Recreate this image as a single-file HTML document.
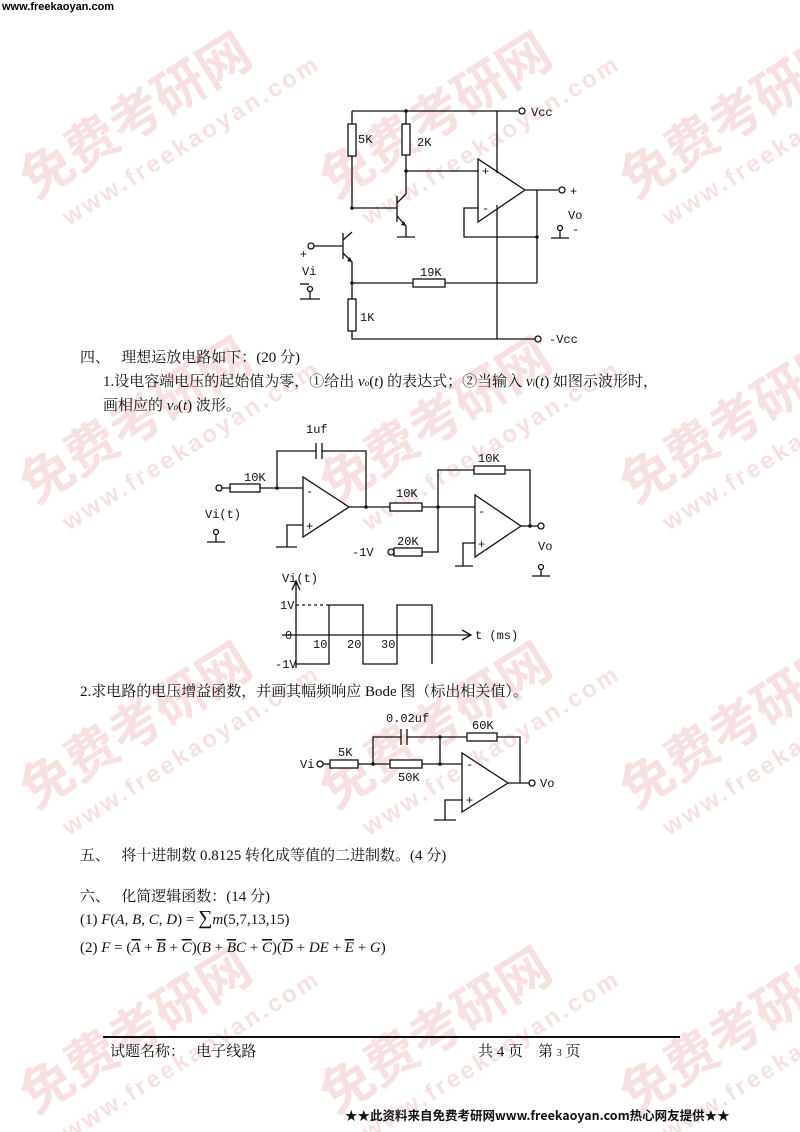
<!DOCTYPE html>
<html><head><meta charset="utf-8">
<style>
html,body{margin:0;padding:0;background:#fff;}
svg{display:block;}
.t{font-family:"Liberation Serif","Noto Serif CJK SC",serif;font-size:15px;fill:#111;}
.m{font-family:"Liberation Mono","Noto Sans CJK SC",monospace;font-size:12px;fill:#111;}
.i{font-style:italic;font-family:"Liberation Serif",serif;}
.wm{font-family:"Noto Sans CJK SC",sans-serif;font-weight:bold;font-size:52px;fill:#e8a8a8;opacity:0.35;}
.wm2{font-family:"Liberation Sans",sans-serif;font-weight:bold;font-size:24px;fill:#e8a8a8;opacity:0.35;letter-spacing:3px;}
</style></head><body>
<svg width="800" height="1132" viewBox="0 0 800 1132" xmlns="http://www.w3.org/2000/svg">
<rect width="800" height="1132" fill="#fff"/>
<g>
<g transform="translate(35,200) rotate(-32)"><text class="wm">免费考研网</text><text class="wm2" x="15" y="40">www.freekaoyan.com</text></g>
<g transform="translate(335,200) rotate(-32)"><text class="wm">免费考研网</text><text class="wm2" x="15" y="40">www.freekaoyan.com</text></g>
<g transform="translate(635,200) rotate(-32)"><text class="wm">免费考研网</text><text class="wm2" x="15" y="40">www.freekaoyan.com</text></g>
<g transform="translate(35,505) rotate(-32)"><text class="wm">免费考研网</text><text class="wm2" x="15" y="40">www.freekaoyan.com</text></g>
<g transform="translate(335,505) rotate(-32)"><text class="wm">免费考研网</text><text class="wm2" x="15" y="40">www.freekaoyan.com</text></g>
<g transform="translate(635,505) rotate(-32)"><text class="wm">免费考研网</text><text class="wm2" x="15" y="40">www.freekaoyan.com</text></g>
<g transform="translate(35,810) rotate(-32)"><text class="wm">免费考研网</text><text class="wm2" x="15" y="40">www.freekaoyan.com</text></g>
<g transform="translate(335,810) rotate(-32)"><text class="wm">免费考研网</text><text class="wm2" x="15" y="40">www.freekaoyan.com</text></g>
<g transform="translate(635,810) rotate(-32)"><text class="wm">免费考研网</text><text class="wm2" x="15" y="40">www.freekaoyan.com</text></g>
<g transform="translate(35,1115) rotate(-32)"><text class="wm">免费考研网</text><text class="wm2" x="15" y="40">www.freekaoyan.com</text></g>
<g transform="translate(335,1115) rotate(-32)"><text class="wm">免费考研网</text><text class="wm2" x="15" y="40">www.freekaoyan.com</text></g>
<g transform="translate(635,1115) rotate(-32)"><text class="wm">免费考研网</text><text class="wm2" x="15" y="40">www.freekaoyan.com</text></g>
</g>

<text x="2" y="10" style="font-family:'Liberation Sans',sans-serif;font-weight:bold;font-size:11px;fill:#000">www.freekaoyan.com</text>

<!-- TOP CIRCUIT -->
<g stroke="#111" stroke-width="1.3" fill="none">
<path d="M352,111 H518"/><circle cx="522" cy="111" r="3" fill="#fff"/>
<path d="M352,111 V124 M352,156 V208"/><rect x="348" y="124" width="8" height="32" fill="#fff"/>
<path d="M406,111 V124 M406,155 V194"/><rect x="402" y="124" width="8" height="31" fill="#fff"/>
<path d="M406,171 H478"/>
<path d="M478,159 L478,222 L525,190 Z" fill="#fff"/>
<path d="M497,111 V173 M497,205 V339"/>
<path d="M525,190 H558"/><circle cx="562" cy="190" r="3" fill="#fff"/>
<path d="M537,190 V283 M537,237 H464 V208 H478"/>
<path d="M352,208 H397 M397,196 V222 M397,203 L406,194 M397,216 L406,226 V237 M397,237 H415"/>
<path d="M314,246 H343 M343,233 V259 M343,240 L352,232 M343,253 L352,262 V299 M352,331 V339 H535"/><circle cx="311" cy="246" r="3" fill="#fff"/>
<circle cx="538" cy="339" r="3" fill="#fff"/>
<rect x="348" y="299" width="8" height="32" fill="#fff"/>
<path d="M352,283 H413 M445,283 H537"/><rect x="413" y="279" width="32" height="8" fill="#fff"/>
<path d="M310,291 V299 M300,299 H320"/><circle cx="310" cy="289" r="2.5" fill="#fff"/>
<path d="M560,230 V238 M551,238 H569"/><circle cx="560" cy="228" r="2.5" fill="#fff"/>
<path d="M300,284 H309"/>
</g>
<g fill="#111"><circle cx="406" cy="111" r="1.8"/><circle cx="406" cy="171" r="1.8"/><circle cx="352" cy="208" r="1.8"/><circle cx="352" cy="283" r="1.8"/><circle cx="537" cy="237" r="1.8"/>
<path d="M406,226 L401,225 L404,221 Z"/><path d="M352,262 L347,261 L350,257 Z"/></g>
<text class="m" x="358" y="143">5K</text><text class="m" x="417" y="146">2K</text>
<text class="m" x="482" y="175" font-size="10">+</text><text class="m" x="482" y="212">-</text>
<text class="m" x="531" y="116">Vcc</text><text class="m" x="570" y="195" font-size="13">+</text>
<text class="m" x="568" y="219">Vo</text><text class="m" x="572" y="233" font-size="13">-</text>
<text class="m" x="300" y="258" font-size="13">+</text><text class="m" x="302" y="275">Vi</text>
<text class="m" x="420" y="276">19K</text><text class="m" x="360" y="321">1K</text>
<text class="m" x="549" y="343">-Vcc</text>

<text class="t" x="80" y="362">四、　 理想运放电路如下：(20 分)</text>
<text class="t" x="103" y="386">1.设电容端电压的起始值为零，①给出 <tspan class="i">v</tspan><tspan font-size="9" class="i">o</tspan>(<tspan class="i">t</tspan>) 的表达式；②当输入 <tspan class="i">v</tspan><tspan font-size="9" class="i">i</tspan>(<tspan class="i">t</tspan>) 如图示波形时，</text>
<text class="t" x="103" y="410">画相应的 <tspan class="i">v</tspan><tspan font-size="9" class="i">o</tspan>(<tspan class="i">t</tspan>) 波形。</text>

<!-- MIDDLE CIRCUIT -->
<g stroke="#111" stroke-width="1.3" fill="none">
<circle cx="219" cy="488" r="3" fill="#fff"/>
<path d="M222,488 H230 M260,488 H303"/><rect x="230" y="484" width="30" height="8" fill="#fff"/>
<path d="M277,488 V451 H316 M322,451 H366 V507 M316,443 V459 M322,443 V459"/>
<path d="M303,477 L303,537 L349,507 Z" fill="#fff"/>
<path d="M303,525 H287 V547 M276,547 H297"/>
<path d="M349,507 H390 M422,507 H475"/><rect x="390" y="503" width="32" height="8" fill="#fff"/>
<path d="M438,507 V470 H474 M505,470 H530 V526"/><rect x="474" y="466" width="31" height="8" fill="#fff"/>
<path d="M475,495 L475,557 L521,526 Z" fill="#fff"/>
<path d="M475,543 H463 V566 M455,566 H473"/>
<path d="M521,526 H538"/><circle cx="541" cy="526" r="3" fill="#fff"/>
<circle cx="391" cy="552" r="3" fill="#fff"/>
<path d="M422,552 H438 V507"/><rect x="394" y="548" width="28" height="8" fill="#fff"/>
<path d="M216,534 V542 M207,542 H225"/><circle cx="216" cy="532" r="2.5" fill="#fff"/>
<path d="M541,569 V576 M532,576 H550"/><circle cx="541" cy="567" r="2.5" fill="#fff"/>
</g>
<g fill="#111"><circle cx="277" cy="488" r="1.8"/><circle cx="366" cy="507" r="1.8"/><circle cx="438" cy="507" r="1.8"/><circle cx="530" cy="526" r="1.8"/></g>
<text class="m" x="306" y="433">1uf</text><text class="m" x="244" y="481">10K</text>
<text class="m" x="306" y="495" font-size="14">-</text><text class="m" x="306" y="530" font-size="13">+</text>
<text class="m" x="396" y="497">10K</text><text class="m" x="478" y="462">10K</text>
<text class="m" x="478" y="515" font-size="14">-</text><text class="m" x="478" y="548" font-size="13">+</text>
<text class="m" x="397" y="545">20K</text><text class="m" x="352" y="556">-1V</text>
<text class="m" x="205" y="518">Vi(t)</text><text class="m" x="538" y="550">Vo</text>

<!-- WAVEFORM -->
<g stroke="#111" stroke-width="1.3" fill="none">
<path d="M296,668 V582 M292,590 L296,581 L300,590"/>
<path d="M282,635 H470 M462,630 L471,635 L462,640"/>
<path d="M296,605 H329" stroke-dasharray="3,3"/>
<path d="M296,664 H329 V605 H363 V664 H397 V605 H432 V664"/>
</g>
<text class="m" x="282" y="582">Vi(t)</text>
<text class="m" x="280" y="609">1V</text><text class="m" x="285" y="639">0</text><text class="m" x="275" y="668">-1V</text>
<text class="m" x="313" y="648">10</text><text class="m" x="347" y="648">20</text><text class="m" x="381" y="648">30</text>
<text class="m" x="475" y="639">t (ms)</text>

<text class="t" x="80" y="696">2.求电路的电压增益函数，并画其幅频响应 Bode 图（标出相关值）。</text>

<!-- BOTTOM CIRCUIT -->
<g stroke="#111" stroke-width="1.3" fill="none">
<circle cx="320" cy="764" r="3" fill="#fff"/>
<path d="M323,764 H330 M358,764 H390 M422,764 H462"/>
<rect x="330" y="760" width="28" height="8" fill="#fff"/><rect x="390" y="760" width="32" height="8" fill="#fff"/>
<path d="M373,764 V737 H401 M407,737 H467 M497,737 H520 V783 M401,729 V745 M407,729 V745 M440,737 V764"/>
<rect x="467" y="733" width="30" height="8" fill="#fff"/>
<path d="M462,753 L462,812 L508,783 Z" fill="#fff"/>
<path d="M462,800 H445 V820 M434,820 H456"/>
<path d="M508,783 H529"/><circle cx="532" cy="783" r="3" fill="#fff"/>
</g>
<g fill="#111"><circle cx="373" cy="764" r="1.8"/><circle cx="440" cy="764" r="1.8"/><circle cx="440" cy="737" r="1.8"/></g>
<text class="m" x="300" y="768">Vi</text><text class="m" x="338" y="756">5K</text>
<text class="m" x="386" y="722">0.02uf</text><text class="m" x="472" y="729">60K</text><text class="m" x="398" y="781">50K</text>
<text class="m" x="466" y="768" font-size="13">-</text><text class="m" x="466" y="804" font-size="12">+</text>
<text class="m" x="540" y="787">Vo</text>

<text class="t" x="80" y="860">五、　 将十进制数 0.8125 转化成等值的二进制数。(4 分)</text>
<text class="t" x="80" y="901">六、　 化简逻辑函数：(14 分)</text>
<text class="t" x="80" y="924" font-size="16">(1) <tspan class="i">F</tspan>(<tspan class="i">A</tspan>, <tspan class="i">B</tspan>, <tspan class="i">C</tspan>, <tspan class="i">D</tspan>) = <tspan font-size="20">∑</tspan><tspan class="i">m</tspan>(5,7,13,15)</text>
<text class="t" x="80" y="952" font-size="16">(2) <tspan class="i">F</tspan> = (<tspan class="i" text-decoration="overline">A</tspan> + <tspan class="i" text-decoration="overline">B</tspan> + <tspan class="i" text-decoration="overline">C</tspan>)(<tspan class="i">B</tspan> + <tspan class="i" text-decoration="overline">B</tspan><tspan class="i">C</tspan> + <tspan class="i" text-decoration="overline">C</tspan>)(<tspan class="i" text-decoration="overline">D</tspan> + <tspan class="i">DE</tspan> + <tspan class="i" text-decoration="overline">E</tspan> + <tspan class="i">G</tspan>)</text>

<line x1="103" y1="1037" x2="680" y2="1037" stroke="#111" stroke-width="2"/>
<text class="t" x="110" y="1056">试题名称：　 电子线路</text>
<text class="t" x="478" y="1056">共 4 页　第 <tspan font-size="10">3</tspan> 页</text>
<text x="345" y="1120" style="font-family:'Noto Sans CJK SC',sans-serif;font-weight:bold;font-size:12.5px;fill:#111">★★此资料来自免费考研网www.freekaoyan.com热心网友提供★★</text>
</svg>
</body></html>
